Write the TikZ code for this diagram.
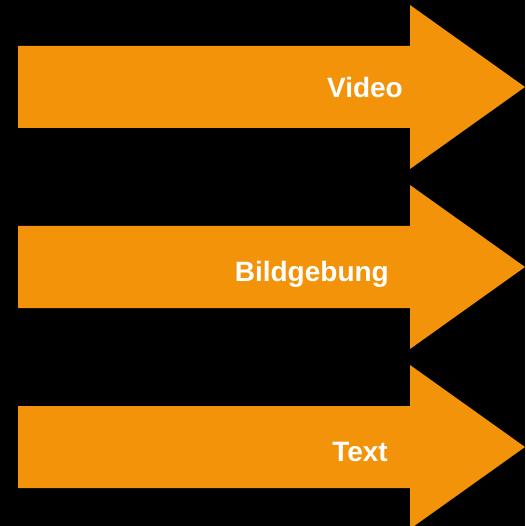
\documentclass[tikz,border=0pt]{standalone}
\usepackage{fontspec}
\setmainfont{Liberation Sans}
\definecolor{arroworange}{HTML}{F29309}
\begin{document}
\begin{tikzpicture}[x=1pt,y=-1pt,
  bigarrow/.style={fill=arroworange,draw=none},
  arrowlabel/.style={text=white,font=\fontsize{28}{33}\selectfont\bfseries,inner sep=0pt,anchor=base east}]
  % black background fixing the page size
  \fill[black] (0,0) rectangle (525,526);
  \useasboundingbox (0,0) rectangle (525,526);
  % three block arrows, centre lines at y = 87, 267, 447
  \foreach \c in {87,267,447}{
    \fill[bigarrow] (18,\c-41) -- (410,\c-41) -- (410,\c-82) -- (525,\c)
      -- (410,\c+82) -- (410,\c+41) -- (18,\c+41) -- cycle;
  }
  \node[arrowlabel] (video) at (403,98) {Video};
  \node[arrowlabel] (bild) at (389,281) {Bildgebung};
  \node[arrowlabel] (text) at (388,461) {Text};
\end{tikzpicture}
\end{document}
